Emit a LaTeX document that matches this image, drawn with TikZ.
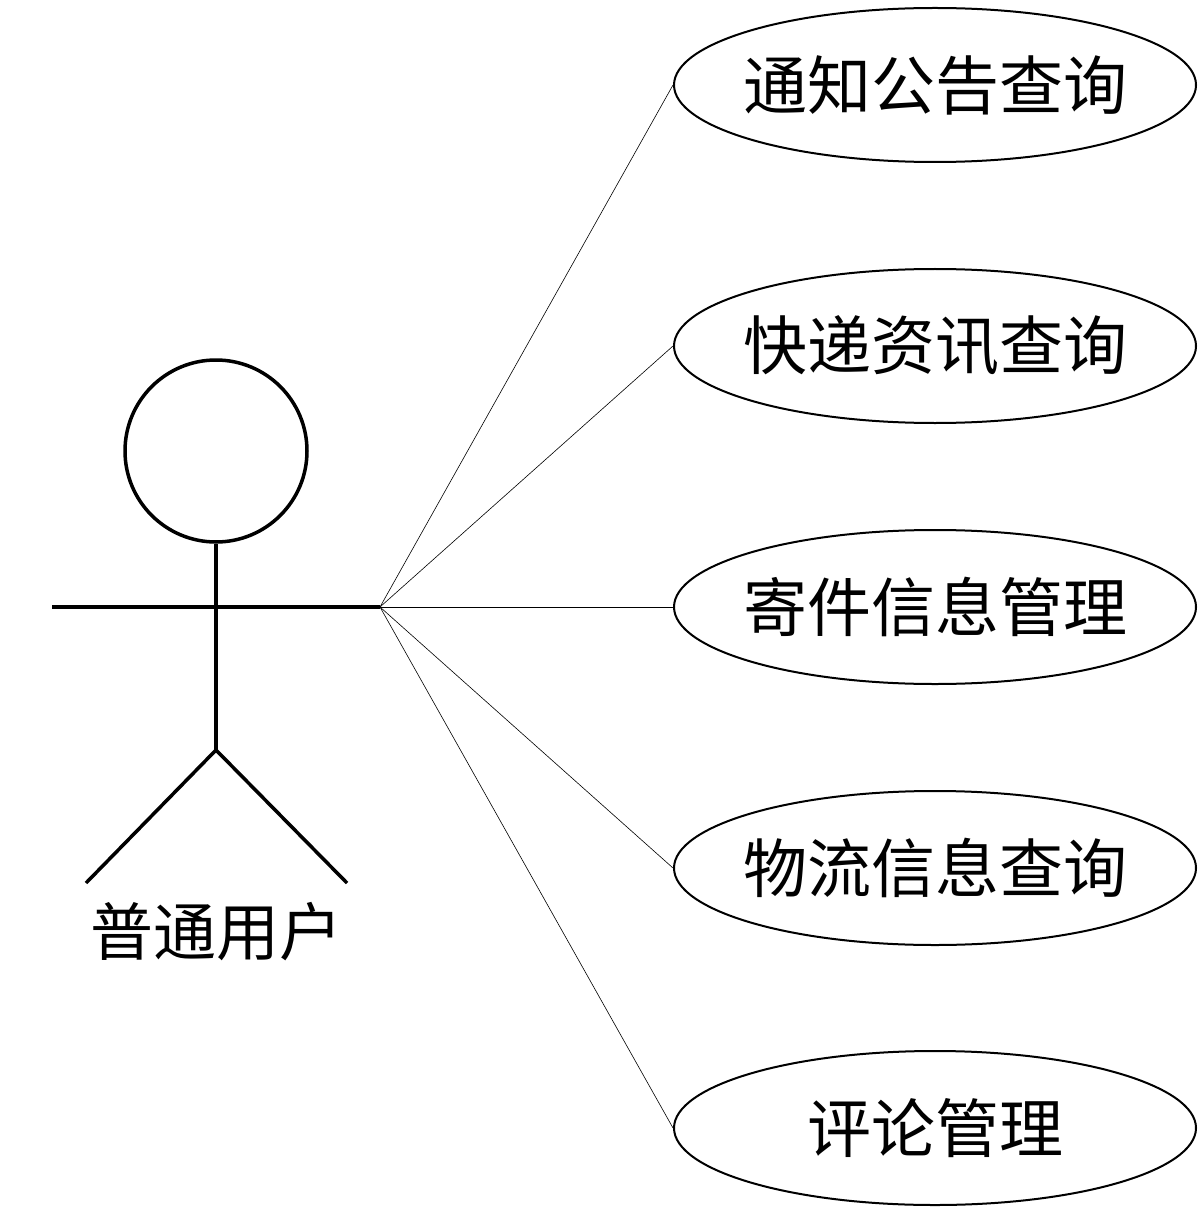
\documentclass[tikz,border=0pt]{standalone}
\usepackage{fontspec}
\usetikzlibrary{shapes.geometric}
\setmainfont{Noto Sans CJK SC}
\begin{document}
\begin{tikzpicture}[x=1pt,y=-1pt,
  uc/.style={draw,ellipse,line width=2pt,minimum width=522pt,minimum height=154pt,inner sep=0pt},
  uct/.style={font=\fontsize{64}{68}\selectfont,inner sep=0pt},
  fig/.style={line width=3.5pt},
  conn/.style={line width=0.6pt}]
\useasboundingbox (0,0) rectangle (1200,1214);
\node[uc] (u1) at (935,85) {};
\node[uc] (u2) at (935,346) {};
\node[uc] (u3) at (935,607) {};
\node[uc] (u4) at (935,868) {};
\node[uc] (u5) at (935,1128) {};
\node[uct] (t1) at (u1.center) {通知公告查询};
\node[uct] (t2) at (u2.center) {快递资讯查询};
\node[uct] (t3) at (u3.center) {寄件信息管理};
\node[uct] (t4) at (u4.center) {物流信息查询};
\node[uct] (t5) at (u5.center) {评论管理};
\node[draw,circle,fig,minimum size=182pt,inner sep=0pt] (head) at (216,451) {};
\coordinate (hip) at (216,750);
\coordinate (la) at (52,607);
\coordinate (ra) at (380,607);
\coordinate (ll) at (86,883);
\coordinate (rl) at (347,883);
\draw[fig] (head.south) -- (hip);
\draw[fig] (la) -- (ra);
\draw[fig] (ll) -- (hip) -- (rl);
\node[font=\fontsize{63}{66}\selectfont] (actor) at (216,932) {普通用户};
\foreach \u in {u1,u2,u3,u4,u5} \draw[conn] (ra) -- (\u.west);
\end{tikzpicture}
\end{document}
